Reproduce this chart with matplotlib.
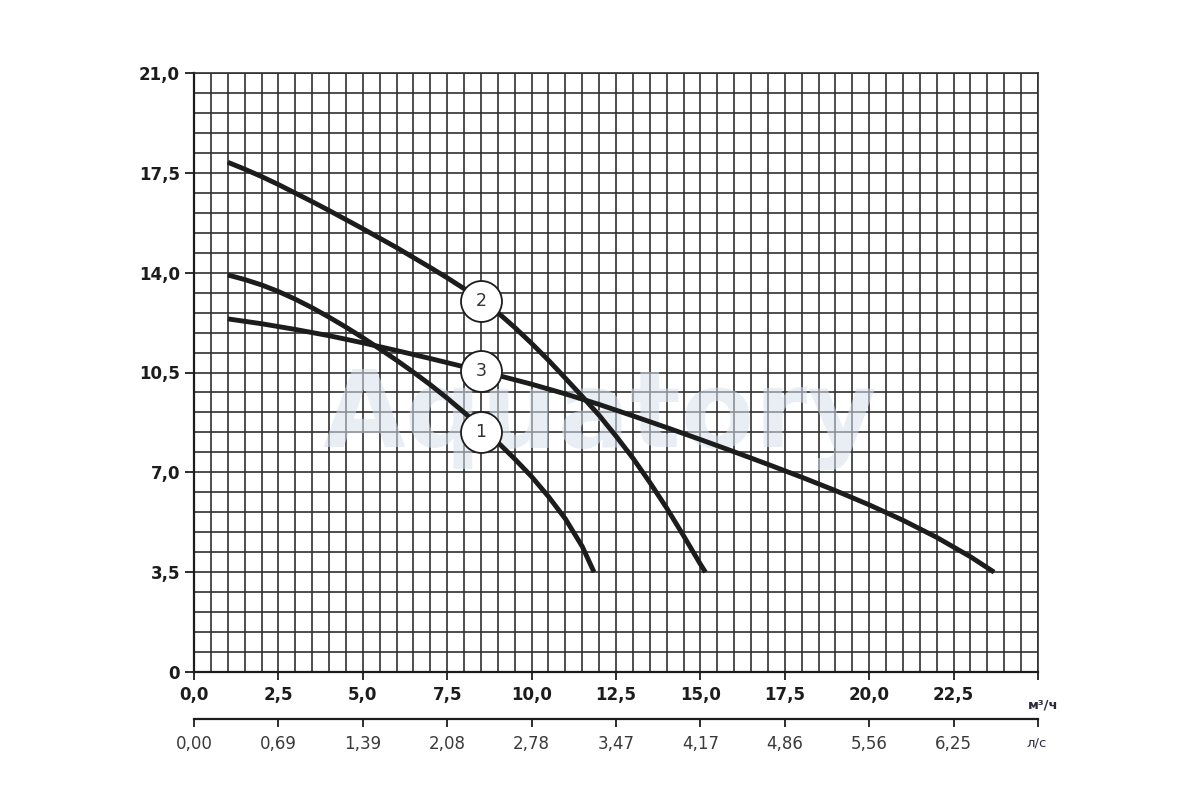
"""
Pump performance curves (head vs flow) on a fine grid,
with a second flow scale in l/s under the main m3/h axis.
"""
import matplotlib
matplotlib.use("Agg")
import matplotlib.pyplot as plt
import numpy as np

# curve data (flow m3/h, head)
q_1 = [1.0, 1.5, 2.0, 2.5, 3.0, 3.5, 4.0, 4.5, 5.0, 5.5, 6.0, 6.5, 7.0, 7.5, 8.0,
       8.5, 9.0, 9.5, 10.0, 10.5, 11.0, 11.5, 11.85]
h_1 = [13.92, 13.76, 13.57, 13.34, 13.07, 12.77, 12.44, 12.09, 11.72, 11.33, 10.93,
       10.51, 10.07, 9.6, 9.1, 8.58, 8.05, 7.47, 6.85, 6.15, 5.37, 4.4, 3.5]

q_2 = [1.0, 1.5, 2.0, 2.5, 3.0, 3.5, 4.0, 4.5, 5.0, 5.5, 6.0, 6.5, 7.0, 7.5, 8.0,
       8.5, 9.0, 9.5, 10.0, 10.5, 11.0, 11.5, 12.0, 12.5, 13.0, 13.5, 14.0, 14.5,
       15.0, 15.15]
h_2 = [17.87, 17.63, 17.37, 17.09, 16.79, 16.49, 16.18, 15.86, 15.54, 15.21, 14.88,
       14.53, 14.18, 13.82, 13.44, 13.04, 12.6, 12.08, 11.52, 10.93, 10.3, 9.66,
       9.0, 8.27, 7.5, 6.65, 5.75, 4.78, 3.78, 3.5]

q_3 = [1.0, 2.0, 3.0, 4.0, 5.0, 6.0, 7.0, 8.0, 9.0, 10.0, 11.0, 12.0, 13.0, 14.0,
       15.0, 16.0, 17.0, 18.0, 19.0, 20.0, 21.0, 22.0, 23.0, 23.7]
h_3 = [12.38, 12.21, 12.01, 11.79, 11.54, 11.27, 10.99, 10.7, 10.4, 10.09, 9.75,
       9.38, 8.98, 8.57, 8.15, 7.72, 7.28, 6.83, 6.36, 5.86, 5.32, 4.72, 4.04, 3.5]

# circled curve numbers
label_names = ["1", "2", "3"]
label_q = [8.5, 8.5, 8.5]
label_h = [8.42, 13.0, 10.55]

# axis ticks
x_ticks = [0.0, 2.5, 5.0, 7.5, 10.0, 12.5, 15.0, 17.5, 20.0, 22.5, 25.0]
x_labels = ["0,0", "2,5", "5,0", "7,5", "10,0", "12,5", "15,0", "17,5", "20,0", "22,5", ""]
ls_labels = ["0,00", "0,69", "1,39", "2,08", "2,78", "3,47", "4,17", "4,86", "5,56", "6,25", ""]
y_ticks = [0.0, 3.5, 7.0, 10.5, 14.0, 17.5, 21.0]
y_labels = ["0", "3,5", "7,0", "10,5", "14,0", "17,5", "21,0"]

INK = "#1c1c1c"
GRID = "#303030"

plt.rcParams["font.family"] = ["DejaVu Sans"]

fig = plt.figure(figsize=(12, 8), dpi=100)
ax = fig.add_axes([194 / 1200, 1 - 672 / 800, 844 / 1200, 599 / 800])

ax.set_xlim(0, 25)
ax.set_ylim(0, 21)

# fine grid: 0.5 m3/h by 0.7 m
ax.set_xticks(np.arange(0, 25.01, 0.5), minor=True)
ax.set_yticks(np.arange(0, 21.01, 0.7), minor=True)
ax.set_axisbelow(True)
ax.grid(which="both", color=GRID, linewidth=1.2)

ax.set_xticks(x_ticks)
ax.set_xticklabels(x_labels, fontsize=12, fontweight="bold", color=INK)
ax.set_yticks(y_ticks)
ax.set_yticklabels(y_labels, fontsize=12, fontweight="bold", color=INK)
ax.tick_params(which="minor", length=0)
ax.tick_params(axis="x", which="major", length=6, width=1.3, pad=4, color=INK)
ax.tick_params(axis="y", which="major", length=6.5, width=1.3, pad=3.5, color=INK)
for side in ["left", "bottom"]:
    ax.spines[side].set_linewidth(1.6)
    ax.spines[side].set_color(INK)
for side in ["top", "right"]:
    ax.spines[side].set_linewidth(1.2)
    ax.spines[side].set_color(GRID)

# faint watermark (display coords, origin bottom-left)
ax.text(600, 800 - 447, "Aquatory", transform=None, fontsize=77, fontweight="bold",
        color="#d8e1ec", alpha=0.55, ha="center", va="baseline", zorder=2)

for q, h in [(q_1, h_1), (q_2, h_2), (q_3, h_3)]:
    ax.plot(q, h, color=INK, linewidth=3.5, solid_capstyle="butt",
            solid_joinstyle="round", zorder=3)

ax.scatter(label_q, label_h, s=870, facecolor="white", edgecolor=INK,
           linewidth=1.3, zorder=4)
for name, q, h in zip(label_names, label_q, label_h):
    ax.text(q, h, name, fontsize=12.5, color="#333333", ha="center",
            va="center", zorder=5)

# second flow scale in l/s
sec = ax.secondary_xaxis(-0.0792)
sec.set_xticks(x_ticks)
sec.set_xticklabels(ls_labels, fontsize=12, color="#3a3a3a")
sec.tick_params(length=6, width=1.3, pad=5, color=INK)
sec.spines["bottom"].set_linewidth(1.6)
sec.spines["bottom"].set_color(INK)

# units
ax.text(1.006, -0.055, "м³/ч", transform=ax.transAxes, fontsize=9.5,
        fontweight="bold", color="#2a2a3a", ha="center", va="center")
ax.text(0.999, -0.119, "л/с", transform=ax.transAxes, fontsize=9.5,
        color="#2a2a3a", ha="center", va="center")

fig.savefig("out.png", dpi=100)
plt.close(fig)
